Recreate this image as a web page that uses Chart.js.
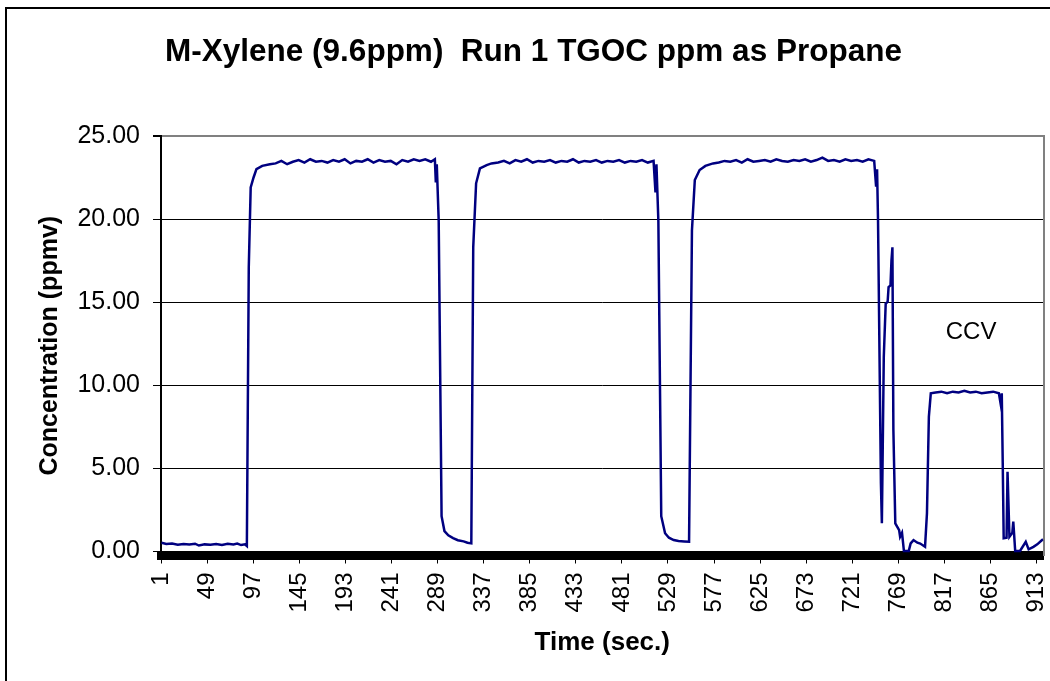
<!DOCTYPE html>
<html>
<head>
<meta charset="utf-8">
<script src="https://cdn.jsdelivr.net/npm/chart.js@4.4.0/dist/chart.umd.min.js"></script>
<style>
  html, body { margin: 0; padding: 0; background: #fff; }
</style>
</head>
<body>
<canvas id="grafico" width="1050" height="681"></canvas>
<script>
const FONT = "'Liberation Sans', Arial, sans-serif";

const chartTitle = 'M-Xylene (9.6ppm)  Run 1 TGOC ppm as Propane';
const xTitle = 'Time (sec.)';
const yTitle = 'Concentration (ppmv)';

// tick labels
const xTicks = [1, 49, 97, 145, 193, 241, 289, 337, 385, 433, 481, 529, 577, 625, 673, 721, 769, 817, 865, 913];
const yTicks = [0, 5, 10, 15, 20, 25];

// readings (sec -> ppmv)
const timeSec = [
    1, 6, 12, 18, 24, 30, 36, 40, 46, 52, 58, 64, 70, 76, 80, 84, 88, 90,
    92, 94, 97, 100, 106, 114,
    120, 126, 132, 138, 144, 150, 156, 162, 168, 174, 180, 186, 192, 198, 204,
    210, 216, 222, 228, 234, 240, 246, 252, 258, 264, 270, 276, 282, 286,
    287, 288, 290, 293, 296, 300, 305, 310, 316, 320, 324,
    326, 329, 333, 340, 345,
    352, 358, 364, 370, 376, 382, 388, 394, 400, 406, 412, 418, 424, 430,
    436, 442, 448, 454, 460, 466, 472, 478, 484, 490, 496, 502, 508, 514,
    516, 517, 519, 522, 526, 530, 535, 540, 546, 551,
    554, 557, 562, 568, 576,
    582, 588, 594, 600, 606, 612, 618, 624, 630, 636, 642, 648, 654, 660,
    666, 672, 678, 684, 690, 696, 702, 708, 714, 720, 726, 732, 738, 744,
    746, 747, 748, 751, 752, 754, 756, 758, 759, 761, 762, 763, 764, 766,
    770, 771, 773, 775, 780, 782, 785, 789, 792, 797, 799, 801, 803,
    808, 814, 820, 826, 832, 838, 844, 850, 856, 862, 868, 874, 876, 877,
    878, 879, 882, 883, 885, 888, 889, 891, 896, 902, 905, 910, 914, 919, 920
];
const ppm = [
    0.50, 0.42, 0.45, 0.38, 0.42, 0.40, 0.44, 0.33, 0.40, 0.38, 0.42, 0.37, 0.44, 0.40, 0.45, 0.36, 0.40, 0.30,
    17.1, 21.9, 22.5, 23.0, 23.2, 23.3,
    23.35, 23.5, 23.3, 23.45, 23.55, 23.4, 23.6, 23.45, 23.5, 23.4, 23.55, 23.45, 23.6, 23.35, 23.5,
    23.45, 23.6, 23.4, 23.55, 23.45, 23.5, 23.3, 23.55, 23.45, 23.6, 23.5, 23.6, 23.45, 23.6,
    22.2, 23.3, 19.9, 2.1, 1.2, 0.95, 0.78, 0.65, 0.58, 0.5, 0.46,
    18.3, 22.15, 23.05, 23.25, 23.35,
    23.4, 23.5, 23.35, 23.55, 23.45, 23.6, 23.4, 23.5, 23.45, 23.55, 23.4, 23.5, 23.45, 23.6,
    23.4, 23.5, 23.45, 23.55, 23.4, 23.5, 23.45, 23.55, 23.4, 23.5, 23.45, 23.55, 23.4, 23.5,
    21.6, 23.3, 19.9, 2.1, 1.07, 0.8, 0.66, 0.6, 0.58, 0.56,
    19.3, 22.35, 22.95, 23.2, 23.35,
    23.4, 23.5, 23.45, 23.55, 23.4, 23.6, 23.45, 23.5, 23.55, 23.45, 23.6, 23.5, 23.45, 23.55,
    23.5, 23.6, 23.45, 23.55, 23.7, 23.5, 23.55, 23.45, 23.6, 23.5, 23.55, 23.45, 23.6, 23.5,
    21.95, 23.0, 19.9, 4.1, 1.67, 11.7, 14.9, 15.0, 15.9, 16.0, 17.5, 18.3, 7.3, 1.67,
    1.26, 0.86, 1.1, 0, 0, 0.46, 0.66, 0.5, 0.45, 0.26, 2.27, 8.1, 9.5,
    9.55, 9.6, 9.5, 9.6, 9.55, 9.65, 9.55, 9.6, 9.5, 9.55, 9.6, 9.5, 8.8, 9.5,
    5.3, 0.77, 0.8, 4.78, 0.86, 1.1, 1.77, 0, 0, 0.56, 0.1, 0.25, 0.4, 0.66, 0.7
];

const noteText = 'CCV';
const noteAt = [845, 13.2];

const points = timeSec.map((t, i) => ({ x: t, y: ppm[i] }));

// outer frame of the picture
const frame = {
    id: 'frame',
    beforeDraw(chart) {
        const ctx = chart.ctx;
        ctx.save();
        ctx.fillStyle = '#fff';
        ctx.fillRect(0, 0, chart.width, chart.height);
        ctx.fillStyle = '#000';
        ctx.fillRect(5, 7, 2, chart.height - 7);
        ctx.fillRect(5, 7, chart.width - 5, 2);
        ctx.restore();
    }
};

const note = {
    id: 'note',
    afterDatasetsDraw(chart) {
        const { ctx, scales: { x, y } } = chart;
        ctx.save();
        ctx.font = '24px ' + FONT;
        ctx.fillStyle = '#000';
        ctx.textAlign = 'center';
        ctx.textBaseline = 'middle';
        ctx.fillText(noteText, x.getPixelForValue(noteAt[0]), y.getPixelForValue(noteAt[1]));
        ctx.restore();
    }
};

const data = {
    datasets: [{
        label: 'TGOC',
        data: points,
        borderColor: '#000080',
        borderWidth: 2.5,
        pointRadius: 0,
        tension: 0,
        fill: false
    }]
};

const config = {
    type: 'line',
    data,
    options: {
        responsive: false,
        animation: false,
        events: [],
        layout: { padding: { left: 17, right: 0, top: 0, bottom: 0 } },
        plugins: {
            legend: { display: false },
            tooltip: { enabled: false },
            title: {
                display: true,
                text: chartTitle,
                color: '#000',
                font: { family: FONT, size: 31.5, weight: 'bold' },
                padding: { top: 33.1, bottom: 65.1 }
            }
        },
        scales: {
            x: {
                type: 'linear',
                min: 0.5,
                max: 920.5,
                afterBuildTicks: s => { s.ticks = xTicks.map(v => ({ value: v })); },
                afterFit: s => {
                    s.height = 125.5;
                    s.paddingLeft = 0;
                    s.paddingRight = 0;
                },
                ticks: {
                    autoSkip: false,
                    minRotation: 90,
                    maxRotation: 90,
                    padding: 9,
                    color: '#000',
                    font: { family: FONT, size: 24 },
                    callback: v => String(v)
                },
                grid: { drawOnChartArea: false, tickLength: 8, color: '#000' },
                border: { color: '#000', width: 9 },
                title: {
                    display: true,
                    text: xTitle,
                    color: '#000',
                    font: { family: FONT, size: 26, weight: 'bold' },
                    padding: { top: 0, bottom: 22.5 }
                }
            },
            y: {
                min: -0.27,
                max: 25,
                afterBuildTicks: s => { s.ticks = yTicks.map(v => ({ value: v })); },
                afterFit: s => { s.width = 144; },
                ticks: {
                    padding: 13,
                    color: '#000',
                    font: { family: FONT, size: 25 },
                    callback: v => v.toFixed(2)
                },
                grid: {
                    color: c => (c.tick && c.tick.value === 25) ? '#808080' : '#000',
                    lineWidth: c => (c.tick && c.tick.value === 25) ? 2 : 1,
                    tickLength: 8,
                    tickColor: '#000'
                },
                border: { color: '#000', width: 2 },
                title: {
                    display: true,
                    text: yTitle,
                    color: '#000',
                    font: { family: FONT, size: 25, weight: 'bold' },
                    padding: { top: 18, bottom: 0 }
                }
            },
            yr: {
                position: 'right',
                min: 0,
                max: 25,
                afterFit: s => { s.width = 6.5; },
                ticks: { display: false },
                grid: { display: false, drawTicks: false },
                border: { color: '#808080', width: 2 }
            }
        }
    },
    plugins: [frame, note]
};

var chart = new Chart(document.getElementById('grafico'), config);
</script>
</body>
</html>
